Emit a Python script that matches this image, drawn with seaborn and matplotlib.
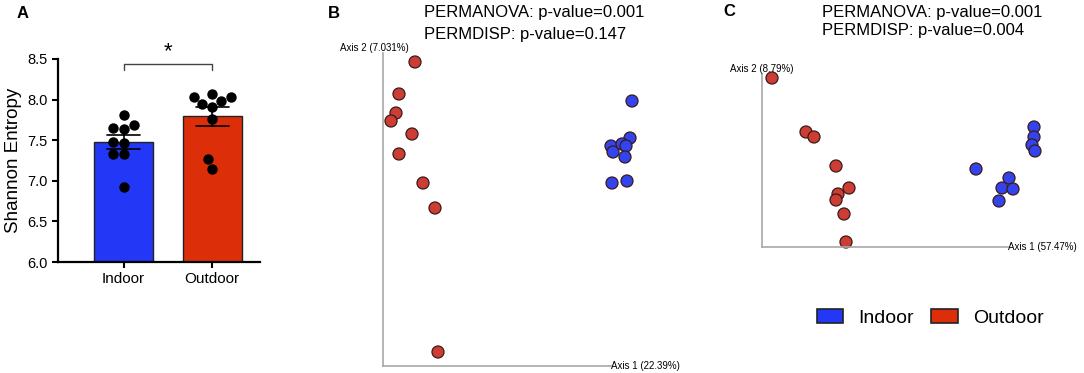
import numpy as np
import pandas as pd
import matplotlib
matplotlib.use("Agg")
import matplotlib.pyplot as plt
from matplotlib.patches import Patch
import seaborn as sns

# Panel A: Shannon entropy per sample
groups = ["Indoor", "Outdoor"]
indoor_shannon = [7.81, 7.65, 7.64, 7.69, 7.48, 7.47, 7.33, 7.33, 6.92]
outdoor_shannon = [8.07, 8.03, 7.91, 7.94, 7.98, 8.03, 7.76, 7.27, 7.15]

# Panel B: PCoA coordinates (axis 1, axis 2)
b_out_ax1 = [0.32, 0.16, 0.13, 0.08, 0.29, 0.16, 0.40, 0.52, 0.55]
b_out_ax2 = [3.04, 2.72, 2.53, 2.45, 2.32, 2.12, 1.83, 1.58, 0.14]
b_in_ax1 = [2.49, 2.47, 2.28, 2.30, 2.39, 2.43, 2.42, 2.29, 2.44]
b_in_ax2 = [2.65, 2.28, 2.20, 2.14, 2.22, 2.20, 2.09, 1.83, 1.85]

# Panel C: PCoA coordinates (axis 1, axis 2)
c_out_ax1 = [0.10, 0.44, 0.52, 0.74, 0.87, 0.76, 0.74, 0.82, 0.84]
c_out_ax2 = [1.69, 1.15, 1.10, 0.81, 0.59, 0.53, 0.47, 0.33, 0.05]
c_in_ax1 = [2.14, 2.72, 2.72, 2.70, 2.73, 2.47, 2.40, 2.51, 2.37]
c_in_ax2 = [0.78, 1.20, 1.10, 1.02, 0.96, 0.69, 0.59, 0.58, 0.46]

bar_colors = {"Indoor": "#2338F7", "Outdoor": "#DD2E0A"}
dot_colors = {"Indoor": "#3344EE", "Outdoor": "#CC3D33"}

sns.set_style("white")
plt.rcParams["font.family"] = ["Liberation Sans", "DejaVu Sans"]
plt.rcParams.update({"text.color": "black", "axes.labelcolor": "black",
                     "xtick.color": "black", "ytick.color": "black"})

W, H = 1084, 373
fig = plt.figure(figsize=(W / 100, H / 100), dpi=100)


def px_axes(x0, y_top, x1, y_bot):
    return fig.add_axes([x0 / W, 1 - y_bot / H, (x1 - x0) / W, (y_bot - y_top) / H])


# ---------------- Panel A ----------------
df_a = pd.DataFrame({
    "group": ["Indoor"] * len(indoor_shannon) + ["Outdoor"] * len(outdoor_shannon),
    "shannon": indoor_shannon + outdoor_shannon,
})
ax_a = px_axes(58, 59, 260, 262)
sns.barplot(data=df_a, x="group", y="shannon", hue="group", order=groups,
            palette=bar_colors, saturation=1, errorbar="se", capsize=0.37, width=0.667,
            err_kws={"color": "black", "linewidth": 1.2},
            edgecolor="#222222", linewidth=1, legend=False, ax=ax_a)
sns.swarmplot(data=df_a, x="group", y="shannon", order=groups, color="black",
              size=7.5, ax=ax_a)
ax_a.set_xlim(-0.74, 1.54)
ax_a.set_ylim(6.0, 8.5)
ax_a.set_yticks([6.0, 6.5, 7.0, 7.5, 8.0, 8.5])
ax_a.set_yticklabels(["6.0", "6.5", "7.0", "7.5", "8.0", "8.5"], fontsize=10.5)
ax_a.set_xlabel("")
ax_a.set_ylabel("Shannon Entropy", fontsize=13.5)
ax_a.tick_params(axis="x", labelsize=11, length=4, width=1.5, direction="out", bottom=True)
ax_a.tick_params(axis="y", length=4, width=1.5, direction="out", left=True)
for s in ["top", "right"]:
    ax_a.spines[s].set_visible(False)
for s in ["left", "bottom"]:
    ax_a.spines[s].set_linewidth(1.6)
    ax_a.spines[s].set_color("black")
# significance bracket
ax_a.plot([0, 0, 1, 1], [8.37, 8.44, 8.44, 8.37], color="#444444", lw=1, clip_on=False)
ax_a.text(0.5, 8.46, "*", ha="center", va="bottom", fontsize=16, clip_on=False)
fig.text(17 / W, 1 - 13 / H, "A", fontsize=12, fontweight="bold", va="center")


# ---------------- PCoA panels ----------------
def pcoa_panel(ax, in1, in2, out1, out2, xlim, ylim, xend, lab1, lab2, lab2_x):
    df = pd.DataFrame({
        "ax1": in1 + out1,
        "ax2": in2 + out2,
        "group": ["Indoor"] * len(in1) + ["Outdoor"] * len(out1),
    })
    sns.scatterplot(data=df, x="ax1", y="ax2", hue="group", palette=dot_colors,
                    s=75, edgecolor="#3a1a1a", linewidth=0.9, legend=False,
                    clip_on=False, ax=ax)
    ax.set_xlim(*xlim)
    ax.set_ylim(*ylim)
    ax.set_xticks([])
    ax.set_yticks([])
    ax.set_xlabel("")
    ax.set_ylabel("")
    for s in ["top", "right"]:
        ax.spines[s].set_visible(False)
    for s in ["left", "bottom"]:
        ax.spines[s].set_color("#a8a8a8")
        ax.spines[s].set_linewidth(1.2)
    ax.spines["bottom"].set_bounds(0, xend)
    ax.spines["left"].set_bounds(0, ylim[1])
    ax.text(xend, 0, lab1, fontsize=7, ha="left", va="center", clip_on=False)
    ax.text(lab2_x, ylim[1], lab2, fontsize=7, ha="center", va="bottom", clip_on=False)


ax_b = px_axes(383, 53, 643, 366)
pcoa_panel(ax_b, b_in_ax1, b_in_ax2, b_out_ax1, b_out_ax2,
           (0, 2.60), (0, 3.13), 2.28, "Axis 1 (22.39%)", "Axis 2 (7.031%)", -0.085)
fig.text(328 / W, 1 - 13 / H, "B", fontsize=12, fontweight="bold", va="center")
fig.text(424 / W, 1 - 13 / H, "PERMANOVA: p-value=0.001", fontsize=12, va="center")
fig.text(424 / W, 1 - 34 / H, "PERMDISP: p-value=0.147", fontsize=12, va="center")

ax_c = px_axes(762, 74, 1052, 247)
pcoa_panel(ax_c, c_in_ax1, c_in_ax2, c_out_ax1, c_out_ax2,
           (0, 2.90), (0, 1.73), 2.46, "Axis 1 (57.47%)", "Axis 2 (8.79%)", 0.0)
fig.text(723 / W, 1 - 12 / H, "C", fontsize=12, fontweight="bold", va="center")
fig.text(822 / W, 1 - 12 / H, "PERMANOVA: p-value=0.001", fontsize=12, va="center")
fig.text(822 / W, 1 - 31 / H, "PERMDISP: p-value=0.004", fontsize=12, va="center")

handles = [Patch(facecolor=bar_colors[g], edgecolor="#222222", linewidth=1.2, label=g)
           for g in groups]
fig.legend(handles=handles, loc="center", bbox_to_anchor=(930 / W, 1 - 318 / H),
           ncol=2, frameon=False, fontsize=14, handlelength=1.35, handleheight=0.72,
           handletextpad=0.77, columnspacing=0.93)

fig.savefig("out.png", dpi=100)
